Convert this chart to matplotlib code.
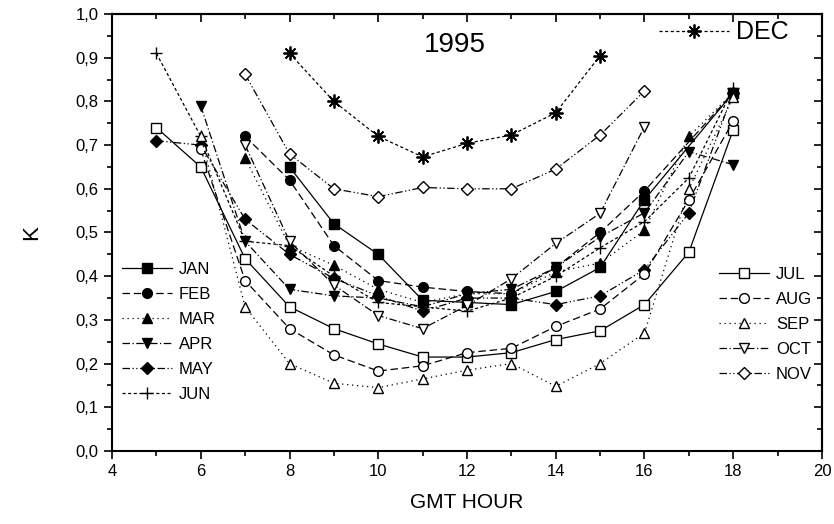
import numpy as np
import matplotlib.pyplot as plt
from matplotlib.ticker import MultipleLocator, FuncFormatter

plt.rcParams['font.family'] = ['Liberation Sans', 'DejaVu Sans']

# hours and K values
jan_x = [8, 9, 10, 11, 12, 13, 14, 15, 16, 18]
jan_y = [0.65, 0.52, 0.45, 0.345, 0.34, 0.335, 0.365, 0.42, 0.575, 0.82]
feb_x = [7, 8, 9, 10, 11, 12, 13, 14, 15, 16, 18]
feb_y = [0.72, 0.62, 0.47, 0.39, 0.375, 0.365, 0.36, 0.42, 0.50, 0.595, 0.82]
mar_x = [7, 8, 9, 10, 11, 12, 13, 14, 15, 16, 17, 18]
mar_y = [0.67, 0.47, 0.425, 0.37, 0.34, 0.36, 0.36, 0.41, 0.43, 0.505, 0.72, 0.82]
apr_x = [6, 7, 8, 9, 10, 11, 12, 13, 14, 15, 16, 17, 18]
apr_y = [0.79, 0.48, 0.37, 0.355, 0.35, 0.33, 0.36, 0.37, 0.42, 0.49, 0.545, 0.685, 0.655]
may_x = [5, 6, 7, 8, 9, 10, 11, 12, 13, 14, 15, 16, 17, 18]
may_y = [0.71, 0.70, 0.53, 0.45, 0.395, 0.355, 0.32, 0.35, 0.35, 0.335, 0.355, 0.415, 0.545, 0.82]
jun_x = [5, 6, 7, 8, 9, 10, 11, 12, 13, 14, 15, 16, 17, 18]
jun_y = [0.91, 0.72, 0.48, 0.47, 0.40, 0.34, 0.33, 0.32, 0.35, 0.40, 0.465, 0.525, 0.625, 0.83]
jul_x = [5, 6, 7, 8, 9, 10, 11, 12, 13, 14, 15, 16, 17, 18]
jul_y = [0.74, 0.65, 0.44, 0.33, 0.28, 0.245, 0.215, 0.215, 0.225, 0.255, 0.275, 0.335, 0.455, 0.735]
aug_x = [6, 7, 8, 9, 10, 11, 12, 13, 14, 15, 16, 17, 18]
aug_y = [0.69, 0.39, 0.28, 0.22, 0.183, 0.195, 0.225, 0.235, 0.285, 0.325, 0.405, 0.575, 0.755]
sep_x = [6, 7, 8, 9, 10, 11, 12, 13, 14, 15, 16, 17, 18]
sep_y = [0.72, 0.33, 0.20, 0.155, 0.145, 0.165, 0.185, 0.20, 0.148, 0.20, 0.27, 0.60, 0.81]
oct_x = [7, 8, 9, 10, 11, 12, 13, 14, 15, 16]
oct_y = [0.70, 0.48, 0.38, 0.31, 0.28, 0.333, 0.394, 0.475, 0.544, 0.742]
nov_x = [7, 8, 9, 10, 11, 12, 13, 14, 15, 16]
nov_y = [0.862, 0.68, 0.60, 0.582, 0.603, 0.60, 0.60, 0.645, 0.723, 0.824]
dec_x = [8, 9, 10, 11, 12, 13, 14, 15]
dec_y = [0.91, 0.80, 0.72, 0.673, 0.704, 0.723, 0.774, 0.905]

DASH = (0, (6, 3))
DOT = (0, (1, 3))
DASHDOT = (0, (6, 2, 1, 2))
DASHDOTDOT = (0, (6, 2, 1, 2, 1, 2))
SHORTDASH = (0, (2.5, 2))
ASTER = (8, 2, 0)

fig = plt.figure(figsize=(8.34, 5.24), dpi=100)
ax = fig.add_axes([0.1343, 0.1393, 0.8513, 0.834])

kw = dict(color='black', lw=0.9, ms=7, mec='black', mew=1.0)
filled = dict(mfc='black')
hollow = dict(mfc='white')

h_jan, = ax.plot(jan_x, jan_y, ls='-', marker='s', label='JAN', **filled, **kw)
h_feb, = ax.plot(feb_x, feb_y, ls=DASH, marker='o', label='FEB', **filled, **kw)
h_mar, = ax.plot(mar_x, mar_y, ls=DOT, marker='^', label='MAR', **filled, **kw)
h_apr, = ax.plot(apr_x, apr_y, ls=DASHDOT, marker='v', label='APR', **filled, **kw)
h_may, = ax.plot(may_x, may_y, ls=DASHDOTDOT, marker='D', label='MAY', **filled,
                 **{**kw, 'ms': 6.5})
h_jun, = ax.plot(jun_x, jun_y, ls=SHORTDASH, marker='+', label='JUN', **{**kw, 'ms': 9})
h_jul, = ax.plot(jul_x, jul_y, ls='-', marker='s', label='JUL', **hollow, **kw)
h_aug, = ax.plot(aug_x, aug_y, ls=DASH, marker='o', label='AUG', **hollow, **kw)
h_sep, = ax.plot(sep_x, sep_y, ls=DOT, marker='^', label='SEP', **hollow, **kw)
h_oct, = ax.plot(oct_x, oct_y, ls=DASHDOT, marker='v', label='OCT', **hollow, **kw)
h_nov, = ax.plot(nov_x, nov_y, ls=DASHDOTDOT, marker='D', label='NOV', **hollow,
                 **{**kw, 'ms': 6.5})
h_dec, = ax.plot(dec_x, dec_y, ls=SHORTDASH, marker=ASTER, label='DEC',
                 **{**kw, 'ms': 10, 'mew': 1.3})

leg_kw = dict(frameon=False, fontsize=12, handlelength=3.0, handletextpad=0.4,
              borderaxespad=0.2, labelspacing=0.6)
leg1 = ax.legend(handles=[h_jan, h_feb, h_mar, h_apr, h_may, h_jun],
                 loc='center left', bbox_to_anchor=(0.0, 0.273), **leg_kw)
ax.add_artist(leg1)
leg2 = ax.legend(handles=[h_jul, h_aug, h_sep, h_oct, h_nov],
                 loc='center right', bbox_to_anchor=(1.0, 0.29), **leg_kw)
ax.add_artist(leg2)
ax.legend(handles=[h_dec], loc='upper right', bbox_to_anchor=(0.985, 1.037),
          frameon=False, fontsize=18, handlelength=2.8, handletextpad=0.3)

ax.text(0.483, 0.93, '1995', transform=ax.transAxes, fontsize=20, ha='center', va='center')

ax.set_xlim(4, 20)
ax.set_ylim(0, 1.0)
ax.xaxis.set_major_locator(MultipleLocator(2))
ax.xaxis.set_minor_locator(MultipleLocator(1))
ax.yaxis.set_major_locator(MultipleLocator(0.1))
ax.yaxis.set_minor_locator(MultipleLocator(0.05))
ax.yaxis.set_major_formatter(FuncFormatter(lambda v, p: f'{v:.1f}'.replace('.', ',')))

ax.tick_params(which='both', direction='out', top=False, right=False, labelsize=12, width=1.2)
ax.tick_params(which='major', length=6)
ax.tick_params(which='minor', length=3.5)
for s in ax.spines.values():
    s.set_linewidth(1.5)

# inward ticks on the right and top edges
sec = ax.secondary_yaxis('right')
sec.yaxis.set_major_locator(MultipleLocator(0.1))
sec.yaxis.set_minor_locator(MultipleLocator(0.05))
sec.tick_params(which='both', direction='in', labelright=False, width=1.2)
sec.tick_params(which='major', length=6)
sec.tick_params(which='minor', length=3.5)
sec.spines['right'].set_linewidth(1.5)
top = ax.secondary_xaxis('top')
top.xaxis.set_major_locator(MultipleLocator(2))
top.xaxis.set_minor_locator(MultipleLocator(1))
top.tick_params(which='both', direction='in', labeltop=False, width=1.2)
top.tick_params(which='major', length=6)
top.tick_params(which='minor', length=3.5)
top.spines['top'].set_linewidth(1.5)

ax.set_xlabel('GMT HOUR', fontsize=15, labelpad=10)
ax.set_ylabel('K', fontsize=16, labelpad=24)

fig.savefig('out.png', dpi=100)
